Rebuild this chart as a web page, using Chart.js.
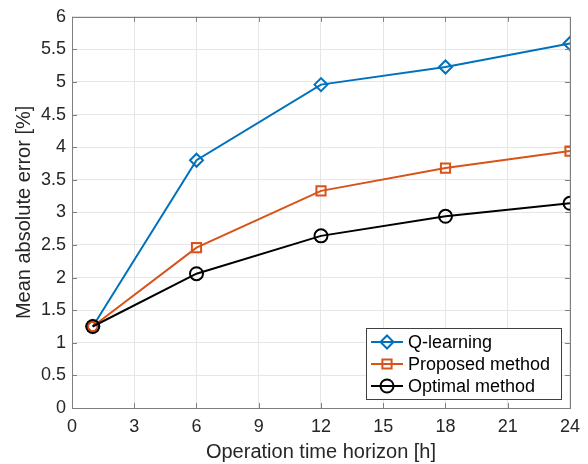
<!DOCTYPE html>
<html>
<head>
<meta charset="utf-8">
<script src="https://cdn.jsdelivr.net/npm/chart.js@4/dist/chart.umd.min.js"></script>
<style>
  html, body { margin: 0; padding: 0; background: #fff; }
  #wrap { width: 588px; height: 464px; }
</style>
</head>
<body>
<div id="wrap"><canvas id="maeChart" width="588" height="464"></canvas></div>
<script>
// data
const hours = [1, 6, 12, 18, 24];
const qLearning = [1.25, 3.80, 4.96, 5.23, 5.59];
const proposed = [1.25, 2.46, 3.33, 3.68, 3.94];
const optimal = [1.25, 2.06, 2.64, 2.94, 3.14];
const seriesNames = ['Q-learning', 'Proposed method', 'Optimal method'];

const FONT = "'Liberation Sans', Arial, Helvetica, sans-serif";

function pts(ys) {
    return hours.map(function(h, i) { return {x: h, y: ys[i]}; });
}

function marker(ctx, style, x, y, r) {
    ctx.beginPath();
    if (style === 'rectRot') {
        ctx.moveTo(x, y - r); ctx.lineTo(x + r, y); ctx.lineTo(x, y + r); ctx.lineTo(x - r, y); ctx.closePath();
    } else if (style === 'rect') {
        var s = r * Math.SQRT1_2;
        ctx.rect(x - s, y - s, 2 * s, 2 * s);
    } else {
        ctx.arc(x, y, r, 0, Math.PI * 2);
    }
    ctx.stroke();
}

// box, inward ticks and legend drawn like the matlab figure
const boxPlugin = {
    id: 'boxPlugin',
    afterDraw: function(chart) {
        const ctx = chart.ctx;
        const a = chart.chartArea;
        const xs = chart.scales.x, ys = chart.scales.y;
        ctx.save();
        ctx.strokeStyle = '#7f7f7f';
        ctx.lineWidth = 1;
        ctx.strokeRect(Math.round(a.left) + 0.5, Math.round(a.top) + 0.5,
            Math.round(a.right - a.left), Math.round(a.bottom - a.top));
        ctx.beginPath();
        xs.ticks.forEach(function(t) {
            const px = Math.round(xs.getPixelForValue(t.value)) + 0.5;
            ctx.moveTo(px, a.bottom); ctx.lineTo(px, a.bottom - 5);
            ctx.moveTo(px, a.top); ctx.lineTo(px, a.top + 5);
        });
        ys.ticks.forEach(function(t) {
            const py = Math.round(ys.getPixelForValue(t.value)) + 0.5;
            ctx.moveTo(a.left, py); ctx.lineTo(a.left + 5, py);
            ctx.moveTo(a.right, py); ctx.lineTo(a.right - 5, py);
        });
        ctx.stroke();

        // legend
        const w = 195, h = 71;
        const lx = Math.round(a.right - 9 - w), ly = Math.round(a.bottom - 9 - h);
        ctx.fillStyle = '#fff';
        ctx.fillRect(lx, ly, w, h);
        ctx.strokeStyle = '#404040';
        ctx.strokeRect(lx + 0.5, ly + 0.5, w, h);
        ctx.font = '18px ' + FONT;
        ctx.textBaseline = 'middle';
        ctx.textAlign = 'left';
        chart.data.datasets.forEach(function(ds, i) {
            const cy = ly + 14 + i * 22;
            ctx.strokeStyle = ds.borderColor;
            ctx.lineWidth = 2;
            ctx.beginPath();
            ctx.moveTo(lx + 5, cy); ctx.lineTo(lx + 37, cy);
            ctx.stroke();
            marker(ctx, ds.pointStyle, lx + 21, cy, ds.pointRadius);
            ctx.fillStyle = '#000';
            ctx.fillText(ds.label, lx + 42, cy + 1);
        });
        ctx.restore();
    }
};

const dt = {
    datasets: [{
        label: seriesNames[0],
        data: pts(qLearning),
        borderColor: '#0072BD',
        pointStyle: 'rectRot',
        pointRadius: 6.5,
        order: 3
    }, {
        label: seriesNames[1],
        data: pts(proposed),
        borderColor: '#D95319',
        pointStyle: 'rect',
        pointRadius: 6.5,
        order: 2
    }, {
        label: seriesNames[2],
        data: pts(optimal),
        borderColor: '#000000',
        pointStyle: 'circle',
        pointRadius: 6.5,
        order: 1
    }]
};
dt.datasets.forEach(function(ds) {
    ds.borderWidth = 2;
    ds.pointBorderWidth = 2;
    ds.pointBorderColor = ds.borderColor;
    ds.pointBackgroundColor = 'rgba(0,0,0,0)';
    ds.tension = 0;
});

const config_mae = {
    type: 'line',
    data: dt,
    options: {
        responsive: false,
        animation: false,
        layout: { padding: { top: 15, right: 18, left: 12, bottom: 0 } },
        plugins: { legend: { display: false }, tooltip: { enabled: false } },
        scales: {
            x: {
                type: 'linear',
                min: 0, max: 24,
                ticks: { stepSize: 3, color: '#262626', font: { family: FONT, size: 18 }, padding: 8, maxRotation: 0 },
                grid: { color: '#e6e6e6', drawTicks: false },
                border: { display: false },
                title: { display: true, text: 'Operation time horizon [h]', color: '#262626', font: { family: FONT, size: 20 }, padding: { top: 2, bottom: 0 } },
                afterFit: function(s) { s.height = 56; }
            },
            y: {
                min: 0, max: 6,
                ticks: { stepSize: 0.5, color: '#262626', font: { family: FONT, size: 18 }, padding: 6,
                    callback: function(v) { return String(v); } },
                grid: { color: '#e6e6e6', drawTicks: false },
                border: { display: false },
                title: { display: true, text: 'Mean absolute error [%]', color: '#262626', font: { family: FONT, size: 20 }, padding: { top: 0, bottom: 4 } },
                afterFit: function(s) { s.width = 60; }
            }
        }
    },
    plugins: [boxPlugin]
};

const maeChart = new Chart(document.getElementById('maeChart'), config_mae);
</script>
</body>
</html>
